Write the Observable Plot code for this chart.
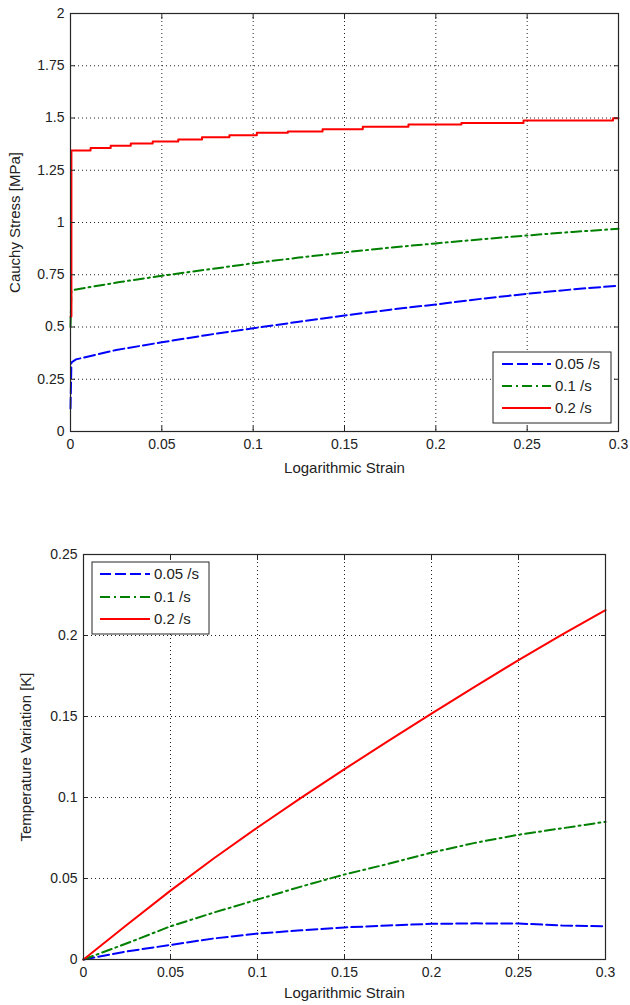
<!DOCTYPE html>
<html>
<head>
<meta charset="utf-8">
<script src="https://cdn.jsdelivr.net/npm/d3@7"></script>
<script src="https://cdn.jsdelivr.net/npm/@observablehq/plot@0.6"></script>
<style>
  html, body { margin: 0; padding: 0; background: #fff; }
  #wrap { width: 630px; }
  svg { display: block; }
</style>
</head>
<body>
<div id="wrap"></div>
<script>
// ---------- data ----------
const strainTicks = [0, 0.05, 0.1, 0.15, 0.2, 0.25, 0.3];
const stressTicks = [0, 0.25, 0.5, 0.75, 1, 1.25, 1.5, 1.75, 2];
const tempTicks = [0, 0.05, 0.1, 0.15, 0.2, 0.25];
const rateLabels = ["0.05 /s", "0.1 /s", "0.2 /s"];

// Cauchy stress [MPa] vs logarithmic strain
const stress005 = [[0,0.11],[0.0005,0.33],[0.003,0.345],[0.025,0.39],[0.05,0.427],[0.075,0.462],[0.1,0.494],[0.125,0.525],[0.15,0.555],[0.175,0.583],[0.2,0.608],[0.225,0.635],[0.25,0.659],[0.275,0.68],[0.3,0.698]];
const stress01 = [[0,0.5],[0.0005,0.675],[0.01,0.69],[0.027,0.715],[0.05,0.745],[0.075,0.775],[0.1,0.805],[0.125,0.832],[0.15,0.857],[0.175,0.88],[0.2,0.9],[0.225,0.92],[0.25,0.938],[0.275,0.955],[0.3,0.97]];
const stress02 = [[0,0.55],[0.0005,1.344],[0.011,1.357],[0.022,1.367],[0.033,1.378],[0.045,1.388],[0.059,1.397],[0.072,1.408],[0.087,1.418],[0.102,1.429],[0.119,1.435],[0.138,1.446],[0.16,1.458],[0.185,1.469],[0.214,1.476],[0.248,1.488],[0.297,1.499],[0.3,1.499]];

// Temperature variation [K] vs logarithmic strain
const temp005 = [[0,0],[0.025,0.005],[0.05,0.009],[0.075,0.013],[0.1,0.016],[0.125,0.018],[0.15,0.0198],[0.175,0.021],[0.2,0.022],[0.225,0.0223],[0.25,0.0222],[0.275,0.021],[0.3,0.0205]];
const temp01 = [[0,0],[0.025,0.010],[0.05,0.0205],[0.075,0.029],[0.1,0.037],[0.125,0.045],[0.15,0.0525],[0.175,0.059],[0.2,0.066],[0.225,0.072],[0.25,0.077],[0.275,0.081],[0.3,0.085]];
const temp02 = [[0,0],[0.025,0.0215],[0.05,0.0425],[0.075,0.0625],[0.1,0.0815],[0.125,0.0998],[0.15,0.1175],[0.175,0.1348],[0.2,0.1518],[0.225,0.1685],[0.25,0.1848],[0.275,0.2005],[0.3,0.2157]];

// ---------- styles ----------
const FONT = "'Liberation Sans', Arial, Helvetica, sans-serif";
const styles = [
  {color: "#0000ff", dash: "11,4"},
  {color: "#008000", dash: "10,4,2,4"},
  {color: "#ff0000", dash: null}
];
const frameColor = "#262626";

function seriesMark(data, i, curve) {
  return Plot.line(data, {
    x: d => d[0], y: d => d[1],
    stroke: styles[i].color, strokeWidth: 2,
    strokeDasharray: styles[i].dash || undefined,
    curve: curve || "linear"
  });
}

function makeChart(opts) {
  const chart = Plot.plot({
    width: 630,
    height: opts.height,
    marginTop: opts.mt, marginRight: opts.mr, marginBottom: opts.mb, marginLeft: opts.ml,
    style: {fontFamily: FONT, fontSize: "14px", color: "#222", background: "#fff", overflow: "visible"},
    x: {domain: [0, 0.3]},
    y: {domain: opts.yDomain},
    marks: [
      Plot.gridX(strainTicks, {stroke: "#222", strokeOpacity: 1, strokeDasharray: "1,3"}),
      Plot.gridY(opts.yTicks, {stroke: "#222", strokeOpacity: 1, strokeDasharray: "1,3"}),
      ...opts.series.map((s, i) => seriesMark(s, i, opts.curves ? opts.curves[i] : null)),
      Plot.frame({stroke: frameColor, strokeWidth: 1.2}),
      Plot.axisX(strainTicks, {anchor: "bottom", tickSize: 0, tickPadding: 8, tickFormat: d => String(d), fontSize: 14, label: null}),
      Plot.axisX(strainTicks, {anchor: "bottom", tickSize: -5, tickFormat: () => "",
        label: "Logarithmic Strain", labelAnchor: "center", labelOffset: opts.xLabelOffset, labelArrow: "none",
        stroke: frameColor, fontSize: 15}),
      Plot.axisX(strainTicks, {anchor: "top", tickSize: -5, tickFormat: () => "", label: null, stroke: frameColor}),
      Plot.axisY(opts.yTicks, {anchor: "left", tickSize: 0, tickPadding: 6, tickFormat: d => String(d), fontSize: 14, label: null}),
      Plot.axisY(opts.yTicks, {anchor: "left", tickSize: -5, tickFormat: () => "",
        label: opts.yLabel, labelAnchor: "center", labelOffset: opts.yLabelOffset, labelArrow: "none",
        stroke: frameColor, fontSize: 15}),
      Plot.axisY(opts.yTicks, {anchor: "right", tickSize: -5, tickFormat: () => "", label: null, stroke: frameColor})
    ]
  });
  // legend
  const svg = d3.select(chart);
  const L = opts.legend;
  const g = svg.append("g").attr("font-family", FONT).attr("font-size", 15).attr("text-anchor", "start");
  g.append("rect").attr("x", L.x0).attr("y", L.y0).attr("width", L.x1 - L.x0).attr("height", L.y1 - L.y0)
    .attr("fill", "#fff").attr("stroke", frameColor).attr("stroke-width", 1);
  rateLabels.forEach((lab, i) => {
    const y = L.rows[i];
    g.append("line").attr("x1", L.lx0).attr("x2", L.lx1).attr("y1", y).attr("y2", y)
      .attr("stroke", styles[i].color).attr("stroke-width", 2)
      .attr("stroke-dasharray", styles[i].dash);
    g.append("text").attr("x", L.tx).attr("y", y).attr("dy", "0.35em").attr("fill", "#222")
      .style("text-anchor", "start").text(lab);
  });
  return chart;
}

const wrap = document.getElementById("wrap");
wrap.appendChild(makeChart({
  height: 500, mt: 13, mr: 12, mb: 69, ml: 70,
  yDomain: [0, 2], yTicks: stressTicks,
  yLabel: "Cauchy Stress [MPa]", yLabelOffset: 61, xLabelOffset: 41,
  series: [stress005, stress01, stress02],
  curves: ["linear", "linear", "step-after"],
  legend: {x0: 493, x1: 611, y0: 352, y1: 423, rows: [364, 386, 408], lx0: 502, lx1: 551, tx: 555}
}));
wrap.appendChild(makeChart({
  height: 505, mt: 54, mr: 25, mb: 46, ml: 83,
  yDomain: [0, 0.25], yTicks: tempTicks,
  yLabel: "Temperature Variation [K]", yLabelOffset: 63, xLabelOffset: 38,
  series: [temp005, temp01, temp02],
  legend: {x0: 92, x1: 209, y0: 62, y1: 134, rows: [74, 97, 119], lx0: 100, lx1: 150, tx: 154}
}));
</script>
</body>
</html>
